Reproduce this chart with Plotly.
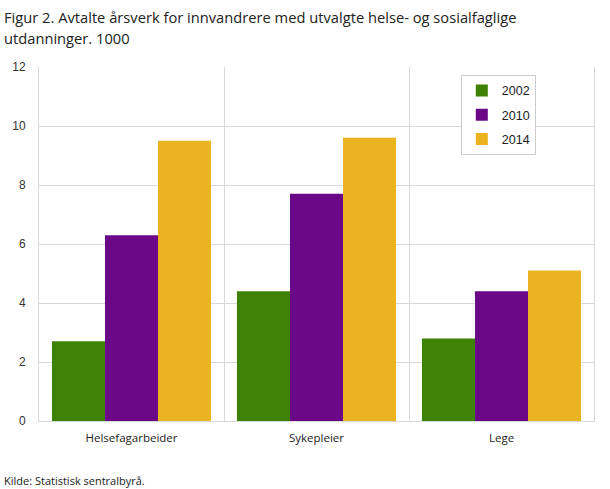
import plotly.graph_objects as go

categories = ["Helsefagarbeider", "Sykepleier", "Lege"]
years = ["2002", "2010", "2014"]
values_2002 = [2.7, 4.4, 2.8]
values_2010 = [6.3, 7.7, 4.4]
values_2014 = [9.5, 9.6, 5.1]
colors = ["#3D8204", "#6A0888", "#EBB320"]
y_ticks = [0, 2, 4, 6, 8, 10, 12]
title_lines = ["Figur 2. Avtalte årsverk for innvandrere med utvalgte helse- og sosialfaglige",
               "utdanninger. 1000"]
source_text = "Kilde: Statistisk sentralbyrå."

series = [values_2002, values_2010, values_2014]

fig = go.Figure()
for name, vals, col in zip(years, series, colors):
    fig.add_trace(go.Bar(x=categories, y=vals, name=name, marker=dict(color=col, line=dict(width=0)),
                         legendgroup=name))

grid = "#d9d9d9"
fig.update_layout(
    width=610, height=489,
    margin=dict(l=39, r=16, t=67, b=68),
    paper_bgcolor="white", plot_bgcolor="white",
    barmode="group", bargap=0.14, bargroupgap=0,
    font=dict(family="Open Sans", size=12, color="#222"),
    xaxis=dict(showgrid=True, gridcolor=grid, gridwidth=1, tickson="boundaries",
               showline=True, linecolor=grid, ticks="", ticklabelstandoff=6,
               tickfont=dict(family="Open Sans", size=11.5, color="#222")),
    yaxis=dict(range=[0, 12], tickvals=y_ticks, showgrid=True, gridcolor=grid, gridwidth=1,
               showline=True, linecolor=grid, mirror=True, zeroline=False, ticks="",
               ticklabelstandoff=10,
               tickfont=dict(family="Liberation Sans", size=12, color="#333")),
    legend=dict(x=0.760, y=0.978, xanchor="left", yanchor="top", bordercolor="#cccccc", borderwidth=1,
                bgcolor="white", font=dict(family="Liberation Sans", size=12.5, color="#222"),
                tracegroupgap=5, itemwidth=30),
    showlegend=True,
)
fig.add_annotation(text=title_lines[0], xref="paper", yref="paper", x=-0.067, y=1.1412,
                   xanchor="left", yanchor="middle", showarrow=False,
                   font=dict(family="Open Sans", size=14.7, color="#222"))
fig.add_annotation(text=title_lines[1], xref="paper", yref="paper", x=-0.067, y=1.0819,
                   xanchor="left", yanchor="middle", showarrow=False,
                   font=dict(family="Open Sans", size=14.7, color="#222"))
fig.add_annotation(text=source_text, xref="paper", yref="paper", x=-0.067, y=-0.1667,
                   xanchor="left", yanchor="middle", showarrow=False,
                   font=dict(family="Open Sans", size=11, color="#222"))
fig.write_html("out.html", config={"displayModeBar": False},
               post_script="document.body.style.margin='0';document.body.style.overflow='hidden';")
